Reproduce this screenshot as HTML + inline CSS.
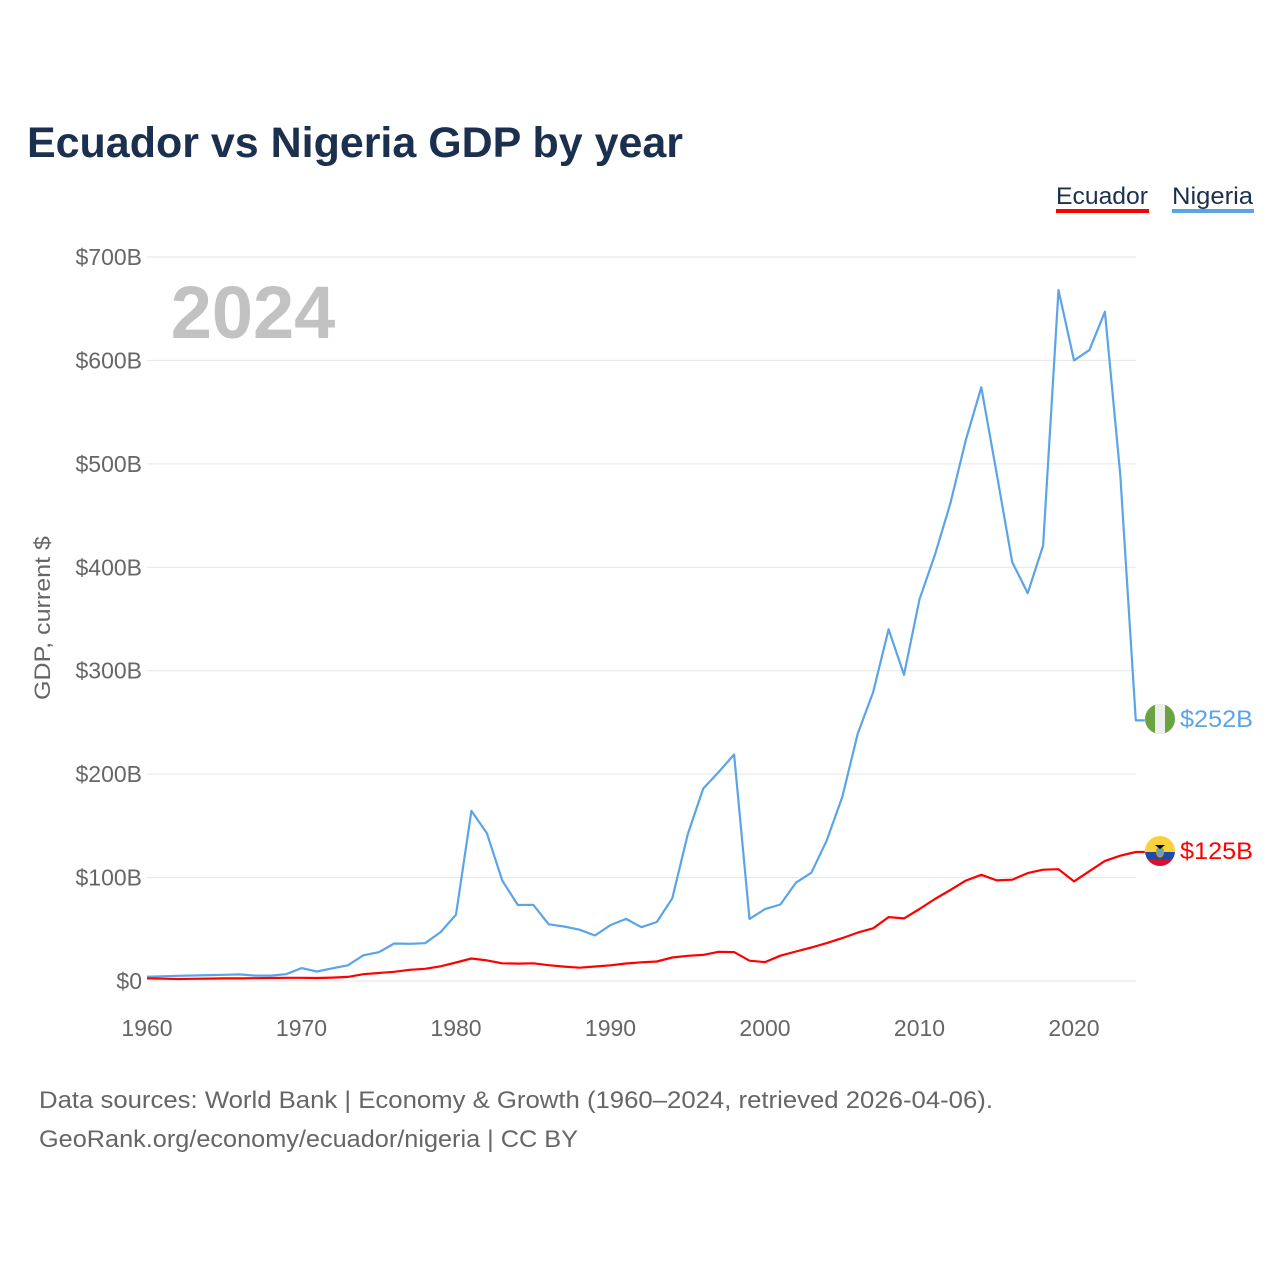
<!DOCTYPE html>
<html><head><meta charset="utf-8">
<style>
body{margin:0;background:#fff;width:1280px;height:1280px;overflow:hidden;font-family:"Liberation Sans",sans-serif;}
svg{display:block}
</style></head>
<body>
<svg width="1280" height="1280" viewBox="0 0 1280 1280">
<text x="27" y="157" font-size="43" font-weight="bold" fill="#1b2f4e" textLength="656" lengthAdjust="spacingAndGlyphs">Ecuador vs Nigeria GDP by year</text>
<g>
<text x="1056" y="204" font-size="24" fill="#1b2f4e" textLength="92" lengthAdjust="spacingAndGlyphs">Ecuador</text>
<rect x="1056" y="209" width="93" height="4" fill="#ff0000"/>
<text x="1172" y="204" font-size="24" fill="#1b2f4e" textLength="81" lengthAdjust="spacingAndGlyphs">Nigeria</text>
<rect x="1172" y="209" width="82" height="4" fill="#5ba4e6"/>
</g>
<g id="grid"></g>
<g id="yt"></g>
<g id="xt"></g>
<text x="253" y="338" font-size="74" font-weight="bold" fill="#c2c2c2" text-anchor="middle">2024</text>
<text transform="translate(50,618) rotate(-90)" font-size="22" fill="#666" text-anchor="middle" textLength="164" lengthAdjust="spacingAndGlyphs">GDP, current $</text>
<g id="lines"></g>
<g>
<clipPath id="cn"><circle cx="1160" cy="719" r="15"/></clipPath>
<g clip-path="url(#cn)"><rect x="1145" y="704" width="30" height="30" fill="#6aa342"/><rect x="1155" y="704" width="10" height="30" fill="#eee"/></g>
</g>
<g>
<clipPath id="ce"><circle cx="1160" cy="851" r="15"/></clipPath>
<g clip-path="url(#ce)"><rect x="1145" y="836" width="30" height="16" fill="#f8d13c"/><rect x="1145" y="852" width="30" height="7" fill="#2049a8"/><rect x="1145" y="859" width="30" height="8" fill="#d9102a"/>
<ellipse cx="1160" cy="852" rx="3.5" ry="5" fill="#5aa0e0" stroke="#c9a000" stroke-width="1.2"/><path d="M1155,845 L1165,845 L1160,849 Z" fill="#000"/></g>
</g>
<text x="1180" y="727" font-size="24" fill="#5ba4e6" textLength="73" lengthAdjust="spacingAndGlyphs">$252B</text>
<text x="1180" y="859" font-size="24" fill="#ff0000" textLength="73" lengthAdjust="spacingAndGlyphs">$125B</text>
<text x="39" y="1108" font-size="24" fill="#666" textLength="954" lengthAdjust="spacingAndGlyphs">Data sources: World Bank | Economy &amp; Growth (1960–2024, retrieved 2026-04-06).</text>
<text x="39" y="1147" font-size="24" fill="#666" textLength="539" lengthAdjust="spacingAndGlyphs">GeoRank.org/economy/ecuador/nigeria | CC BY</text>
</svg>
<script>
const years=[];for(let y=1960;y<=2024;y++)years.push(y);
const nigeria=[4.2,4.5,5,5.3,5.7,6,6.4,5.2,5.2,6.6,12.5,9.2,12.3,15.2,24.8,27.8,36.3,36,36.5,47.3,64.2,164.5,142.8,97.1,73.5,73.7,54.8,52.7,49.6,44,54,60,52,57,80,142,186,202,219,60,69.5,74,95,104.7,136,178,239,279,340,296,369,412,462,523,574,490,405,375,421,668,600,610,647,489,252];
const ecuador=[2.5,2.2,1.9,2.1,2.3,2.5,2.5,2.7,2.9,3.1,3.1,2.9,3.3,4.0,6.6,7.7,8.9,10.8,11.8,14.2,17.9,21.8,19.9,17.1,16.8,17.1,15.3,13.9,12.9,14.0,15.2,16.9,18.1,18.9,22.7,24.4,25.2,28.2,27.9,19.6,18.3,24.5,28.5,32.4,36.6,41.5,46.8,51.0,61.8,60.5,69.6,79.3,88.0,97.1,102.7,97.3,97.9,104.3,107.6,108.1,96.3,106.2,116.1,121.1,124.7];
const yTicks=[0,100,200,300,400,500,600,700];
const yTickLabels=["$0","$100B","$200B","$300B","$400B","$500B","$600B","$700B"];
const xTicks=[1960,1970,1980,1990,2000,2010,2020];
const NS="http://www.w3.org/2000/svg";
const X=y=>147+(y-1960)*15.45;
const Y=v=>981-v*1.0343;
function mk(tag,attrs,parent){const e=document.createElementNS(NS,tag);for(const k in attrs)e.setAttribute(k,attrs[k]);parent.appendChild(e);return e;}
const grid=document.getElementById('grid'),yt=document.getElementById('yt'),xt=document.getElementById('xt'),lines=document.getElementById('lines');
yTicks.forEach((t,i)=>{
 const l=mk('line',{x1:147,x2:1136,y1:Y(t),y2:Y(t),stroke:'#e6e6e6','stroke-width':1},grid);
 
 
 const tx=mk('text',{x:142,y:Y(t)+8,'font-size':23,fill:'#666','text-anchor':'end'},yt);
 tx.textContent=yTickLabels[i];
 
 
});
xTicks.forEach(t=>{
 const tx=mk('text',{x:X(t),y:1036,'font-size':23,fill:'#666','text-anchor':'middle'},xt);
 tx.textContent=t;
 
 
});
function line(data,color,name){
 let d=data.map((v,i)=>(i?'L':'M')+X(years[i]).toFixed(1)+','+Y(v).toFixed(1)).join('');
 d+='L'+(X(years[years.length-1])+9).toFixed(1)+','+Y(data[data.length-1]).toFixed(1);
 const p=mk('path',{d:d,fill:'none',stroke:color,'stroke-width':2.2,'stroke-linejoin':'round'},lines);
 
 
}
line(nigeria,'#5ba4e6','nigeria-line');
line(ecuador,'#ff0000','ecuador-line');
</script>
</body></html>
